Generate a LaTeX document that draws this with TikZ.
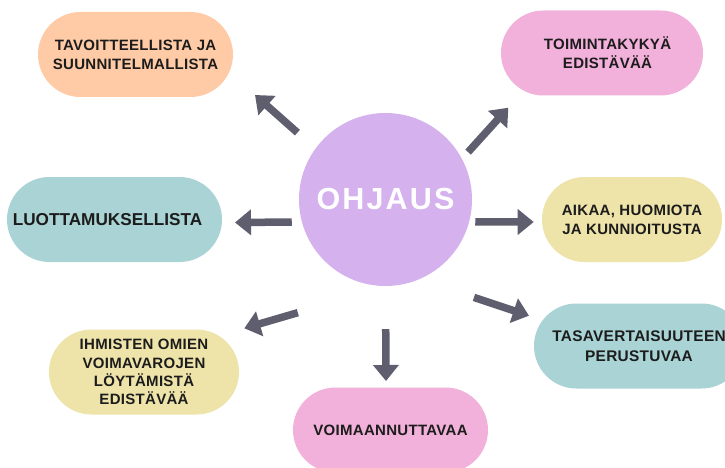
\documentclass[tikz,border=0pt]{standalone}
\usepackage{fontspec}
\setmainfont{Liberation Sans}
\usetikzlibrary{arrows.meta,positioning}
\definecolor{peach}{HTML}{FFCBA6}
\definecolor{rose}{HTML}{F2B1DA}
\definecolor{teal}{HTML}{A9D3D4}
\definecolor{sand}{HTML}{EEE4AA}
\definecolor{lilac}{HTML}{D5B2EE}
\definecolor{ink}{HTML}{1C1C1C}
\definecolor{slate}{HTML}{5F5E6E}

\begin{document}
\begin{tikzpicture}[x=1pt,y=-1pt,on grid,
  pill/.style = {rounded corners=42.5pt,minimum height=85pt,inner sep=0pt,
    text=ink,align=center,
    font=\bfseries\fontsize{15}{19.2}\selectfont\addfontfeatures{LetterSpace=2}},
  arr/.style = {draw=slate,line width=7.5pt,
    -{Triangle[length=16pt,width=25pt]}} ]
  \useasboundingbox (0,0) rectangle (725,468);
  \clip (0,0) rectangle (725,468);
  \fill[white] (0,0) rectangle (725,468);

  \node[circle,fill=lilac,minimum size=173pt,inner sep=0pt,text=white,
    font=\bfseries\fontsize{30.5}{34}\selectfont\addfontfeatures{LetterSpace=7}]
    (ohjaus) at (385.5,199.5) {OHJAUS};

  \node[pill,fill=peach,minimum width=195pt] (goal)
    [above left=145pt and 250pt of ohjaus] {TAVOITTEELLISTA JA\\SUUNNITELMALLISTA};
  \node[pill,fill=rose,minimum width=202pt] (func)
    [above right=146.5pt and 216.5pt of ohjaus]
    {\hspace*{11pt}TOIMINTAKYKYÄ\\\hspace*{11pt}EDISTÄVÄÄ};
  \node[pill,fill=teal,minimum width=215pt,
    font=\bfseries\fontsize{17.2}{20}\selectfont] (trust)
    [below left=20pt and 271pt of ohjaus] {LUOTTAMUKSELLISTA\kern14pt};
  \node[pill,fill=sand,minimum width=180pt] (time)
    [below right=20pt and 246.5pt of ohjaus] {AIKAA, HUOMIOTA\\JA KUNNIOITUSTA};
  \node[pill,fill=sand,minimum width=190pt,
    font=\bfseries\fontsize{15}{18.3}\selectfont\addfontfeatures{LetterSpace=2}] (voima)
    [below left=172.5pt and 241.5pt of ohjaus]
    {IHMISTEN OMIEN\\VOIMAVAROJEN\\LÖYTÄMISTÄ\\EDISTÄVÄÄ};
  \node[pill,fill=teal,minimum width=210pt,
    font=\bfseries\fontsize{15.4}{20}\selectfont\addfontfeatures{LetterSpace=2}] (equal)
    [below right=146.5pt and 253.5pt of ohjaus] {TASAVERTAISUUTEEN\\PERUSTUVAA};
  \node[pill,fill=rose,minimum width=195pt] (empower)
    [below right=230.5pt and 5pt of ohjaus] {VOIMAANNUTTAVAA};

  % arrow tips
  \coordinate (tgoal) at (255,95);
  \coordinate (tfunc) at (508.3,107.7);
  \coordinate (ttrust) at (235,222.5);
  \coordinate (ttime) at (533.7,222);
  \coordinate (tvoima) at (244.3,328.3);
  \coordinate (tequal) at (529,315.7);
  \coordinate (tempower) at (386,381);

  \path
  (ohjaus.144) edge[arr,shorten <=24pt] (tgoal)
  (ohjaus.28) edge[arr,shorten <=9pt] (tfunc)
  (ohjaus.195) edge[arr,shorten <=10pt] (ttrust)
  (ohjaus.345) edge[arr,shorten <=6pt] (ttime)
  (ohjaus.272) edge[arr,shorten <=94.5pt] (tvoima)
  (ohjaus.293) edge[arr,shorten <=57.5pt] (tequal)
  (ohjaus.270) edge[arr,shorten <=43pt] (tempower);
\end{tikzpicture}
\end{document}
